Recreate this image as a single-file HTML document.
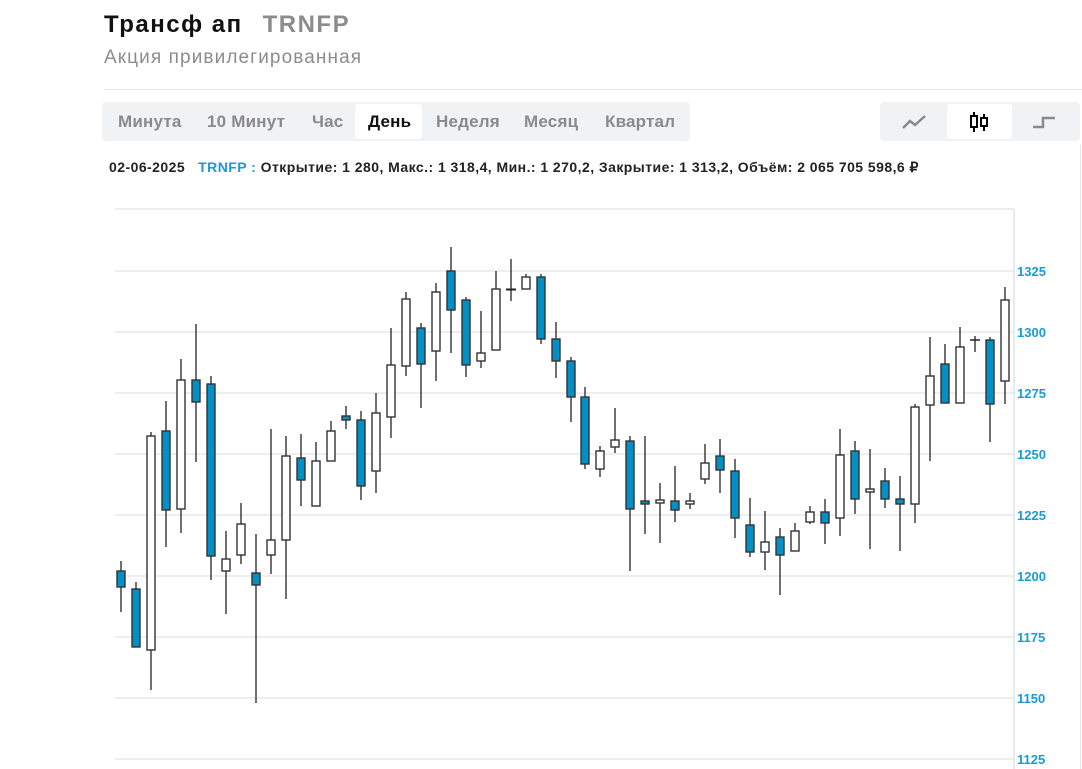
<!DOCTYPE html>
<html><head><meta charset="utf-8"><style>
body{margin:0;width:1082px;height:769px;background:#fff;font-family:"Liberation Sans",sans-serif;position:relative;overflow:hidden}
.a{position:absolute;white-space:nowrap}
.tab{position:absolute;top:103px;height:37px;line-height:37px;font-size:17px;font-weight:bold;color:#8a8a8a;letter-spacing:0.2px}
</style></head><body>
<div class="a" style="left:104px;top:11px;font-size:24px;font-weight:bold;color:#111;letter-spacing:1.5px">Трансф ап<span style="color:#8c8c8c;margin-left:20px">TRNFP</span></div>
<div class="a" style="left:104px;top:47px;font-size:19px;color:#8c8c8c;letter-spacing:1.1px">Акция привилегированная</div>
<div class="a" style="left:104px;top:89px;width:978px;height:1px;background:#e6e6ea"></div>
<div class="a" style="left:102px;top:102px;width:588px;height:39px;background:#f1f2f4;border-radius:4px"></div>
<div class="a" style="left:355px;top:104px;width:67px;height:35px;background:#fff;border-radius:3px"></div>
<div class="tab" style="left:118px">Минута</div>
<div class="tab" style="left:207px">10 Минут</div>
<div class="tab" style="left:312px">Час</div>
<div class="tab" style="left:368px;color:#111">День</div>
<div class="tab" style="left:436px">Неделя</div>
<div class="tab" style="left:524px">Месяц</div>
<div class="tab" style="left:605px">Квартал</div>
<div class="a" style="left:880px;top:102px;width:200px;height:39px;background:#f1f2f4;border-radius:4px"></div>
<div class="a" style="left:947px;top:104px;width:65px;height:35px;background:#fff;border-radius:3px"></div>
<svg class="a" style="left:880px;top:102px" width="200" height="39">
<polyline points="23,26 30,19 35,23 45,14" fill="none" stroke="#8a8a8a" stroke-width="2.5"/>
<g stroke="#000" stroke-width="2"><line x1="94" y1="10" x2="94" y2="30"/><line x1="104" y1="12" x2="104" y2="29"/></g>
<rect x="91" y="14" width="6" height="11" fill="#fff" stroke="#000" stroke-width="2"/>
<rect x="101" y="16" width="6" height="8" fill="#fff" stroke="#000" stroke-width="2"/>
<polyline points="153,25 163,25 163,16 175,16" fill="none" stroke="#8a8a8a" stroke-width="2.5"/>
</svg>
<div class="a" style="left:1080px;top:145px;width:1px;height:624px;background:#e6e6ea"></div>
<div class="a" style="left:109px;top:159px;font-size:14px;font-weight:bold;color:#222;letter-spacing:0.45px">02-06-2025 &nbsp;&nbsp;<span style="color:#1a9ad6">TRNFP :</span> Открытие: 1 280, Макс.: 1 318,4, Мин.: 1 270,2, Закрытие: 1 313,2, Объём: 2 065 705 598,6 ₽</div>
<svg class="a" style="left:0;top:0" width="1082" height="769">
<g stroke="#e8e8ea" stroke-width="1.5">
<line x1="115" y1="209" x2="1014" y2="209"/><line x1="115" y1="271" x2="1014" y2="271"/><line x1="115" y1="332" x2="1014" y2="332"/><line x1="115" y1="393" x2="1014" y2="393"/><line x1="115" y1="454" x2="1014" y2="454"/><line x1="115" y1="515" x2="1014" y2="515"/><line x1="115" y1="576" x2="1014" y2="576"/><line x1="115" y1="637" x2="1014" y2="637"/><line x1="115" y1="698" x2="1014" y2="698"/><line x1="115" y1="759" x2="1014" y2="759"/>
</g>
<line x1="1014" y1="209" x2="1014" y2="769" stroke="#dde3f0" stroke-width="1.5"/>
<g font-family="Liberation Sans,sans-serif" font-size="13" font-weight="bold" fill="#1a9ad6">
<text x="1017" y="276">1325</text><text x="1017" y="337">1300</text><text x="1017" y="398">1275</text><text x="1017" y="459">1250</text><text x="1017" y="520">1225</text><text x="1017" y="581">1200</text><text x="1017" y="642">1175</text><text x="1017" y="703">1150</text><text x="1017" y="764">1125</text>
</g>
<g stroke="#222" stroke-width="1.3">
<line x1="121" y1="561" x2="121" y2="612"/><line x1="136" y1="582" x2="136" y2="647"/><line x1="151" y1="432" x2="151" y2="690"/><line x1="166" y1="401" x2="166" y2="547"/><line x1="181" y1="359" x2="181" y2="533"/><line x1="196" y1="324" x2="196" y2="462"/><line x1="211" y1="376" x2="211" y2="580"/><line x1="226" y1="531" x2="226" y2="614"/><line x1="241" y1="503" x2="241" y2="564"/><line x1="256" y1="534" x2="256" y2="703"/><line x1="271" y1="429" x2="271" y2="574"/><line x1="286" y1="436" x2="286" y2="599"/><line x1="301" y1="434" x2="301" y2="506"/><line x1="316" y1="442" x2="316" y2="506"/><line x1="331" y1="421" x2="331" y2="461"/><line x1="346" y1="406" x2="346" y2="429"/><line x1="361" y1="411" x2="361" y2="500"/><line x1="376" y1="393" x2="376" y2="493"/><line x1="391" y1="328" x2="391" y2="438"/><line x1="406" y1="292" x2="406" y2="376"/>
<line x1="421" y1="323" x2="421" y2="408"/><line x1="436" y1="283" x2="436" y2="381"/><line x1="451" y1="247" x2="451" y2="353"/><line x1="466" y1="297" x2="466" y2="377"/><line x1="481" y1="311" x2="481" y2="368"/><line x1="496" y1="271" x2="496" y2="350"/><line x1="511" y1="259" x2="511" y2="301"/><line x1="526" y1="274" x2="526" y2="289"/><line x1="541" y1="274" x2="541" y2="344"/><line x1="556" y1="322" x2="556" y2="378"/><line x1="571" y1="357" x2="571" y2="422"/><line x1="585" y1="387" x2="585" y2="469"/><line x1="600" y1="446" x2="600" y2="477"/><line x1="615" y1="408" x2="615" y2="453"/><line x1="630" y1="436" x2="630" y2="571"/><line x1="645" y1="436" x2="645" y2="534"/><line x1="660" y1="483" x2="660" y2="543"/><line x1="675" y1="466" x2="675" y2="522"/><line x1="690" y1="493" x2="690" y2="509"/><line x1="705" y1="444" x2="705" y2="484"/>
<line x1="720" y1="439" x2="720" y2="493"/><line x1="735" y1="459" x2="735" y2="538"/><line x1="750" y1="498" x2="750" y2="557"/><line x1="765" y1="511" x2="765" y2="570"/><line x1="780" y1="528" x2="780" y2="595"/><line x1="795" y1="523" x2="795" y2="551"/><line x1="810" y1="506" x2="810" y2="524"/><line x1="825" y1="499" x2="825" y2="544"/><line x1="840" y1="429" x2="840" y2="536"/><line x1="855" y1="441" x2="855" y2="514"/><line x1="870" y1="449" x2="870" y2="549"/><line x1="885" y1="468" x2="885" y2="508"/><line x1="900" y1="476" x2="900" y2="551"/><line x1="915" y1="404" x2="915" y2="523"/><line x1="930" y1="337" x2="930" y2="461"/><line x1="945" y1="344" x2="945" y2="403"/><line x1="960" y1="327" x2="960" y2="403"/><line x1="975" y1="336" x2="975" y2="352"/><line x1="990" y1="337" x2="990" y2="442"/><line x1="1005" y1="287" x2="1005" y2="404"/>
<line x1="506" y1="289.5" x2="516" y2="289.5" stroke-width="2"/><line x1="970" y1="340" x2="980" y2="340" stroke-width="1.5"/>
</g>
<g stroke="#333" stroke-width="1.4">
<g fill="#0090c6">
<rect x="117" y="571" width="8" height="16"/><rect x="132" y="589" width="8" height="58"/><rect x="162" y="431" width="8" height="79"/><rect x="192" y="380" width="8" height="22"/><rect x="207" y="384" width="8" height="172"/><rect x="252" y="573" width="8" height="12"/><rect x="297" y="458" width="8" height="22"/><rect x="342" y="416" width="8" height="4"/><rect x="357" y="420" width="8" height="66"/>
<rect x="417" y="328" width="8" height="36"/><rect x="447" y="271" width="8" height="39"/><rect x="462" y="300" width="8" height="65"/><rect x="537" y="277" width="8" height="62"/><rect x="552" y="339" width="8" height="22"/><rect x="567" y="361" width="8" height="36"/><rect x="581" y="397" width="8" height="67"/><rect x="626" y="441" width="8" height="68"/><rect x="641" y="501" width="8" height="3"/><rect x="671" y="501" width="8" height="9"/>
<rect x="716" y="456" width="8" height="14"/><rect x="731" y="471" width="8" height="47"/><rect x="746" y="525" width="8" height="27"/><rect x="776" y="537" width="8" height="18"/><rect x="821" y="512" width="8" height="11"/><rect x="851" y="451" width="8" height="48"/><rect x="881" y="481" width="8" height="18"/><rect x="896" y="499" width="8" height="5"/><rect x="941" y="364" width="8" height="39"/><rect x="986" y="340" width="8" height="64"/>
</g>
<g fill="#fff">
<rect x="147" y="436" width="8" height="214"/><rect x="177" y="380" width="8" height="129"/><rect x="222" y="559" width="8" height="12"/><rect x="237" y="524" width="8" height="31"/><rect x="267" y="540" width="8" height="15"/><rect x="282" y="456" width="8" height="84"/><rect x="312" y="461" width="8" height="45"/><rect x="327" y="431" width="8" height="30"/><rect x="372" y="413" width="8" height="58"/><rect x="387" y="365" width="8" height="52"/><rect x="402" y="299" width="8" height="67"/>
<rect x="432" y="292" width="8" height="59"/><rect x="477" y="353" width="8" height="8"/><rect x="492" y="289" width="8" height="61"/><rect x="522" y="277" width="8" height="12"/><rect x="596" y="451" width="8" height="18"/><rect x="611" y="440" width="8" height="7"/><rect x="656" y="500" width="8" height="3"/><rect x="686" y="501" width="8" height="3"/><rect x="701" y="463" width="8" height="16"/>
<rect x="761" y="542" width="8" height="10"/><rect x="791" y="531" width="8" height="20"/><rect x="806" y="512" width="8" height="10"/><rect x="836" y="455" width="8" height="63"/><rect x="866" y="489" width="8" height="3"/><rect x="911" y="407" width="8" height="97"/><rect x="926" y="376" width="8" height="29"/><rect x="956" y="347" width="8" height="56"/><rect x="1001" y="300" width="8" height="81"/>
</g></g>
</svg>
</body></html>
